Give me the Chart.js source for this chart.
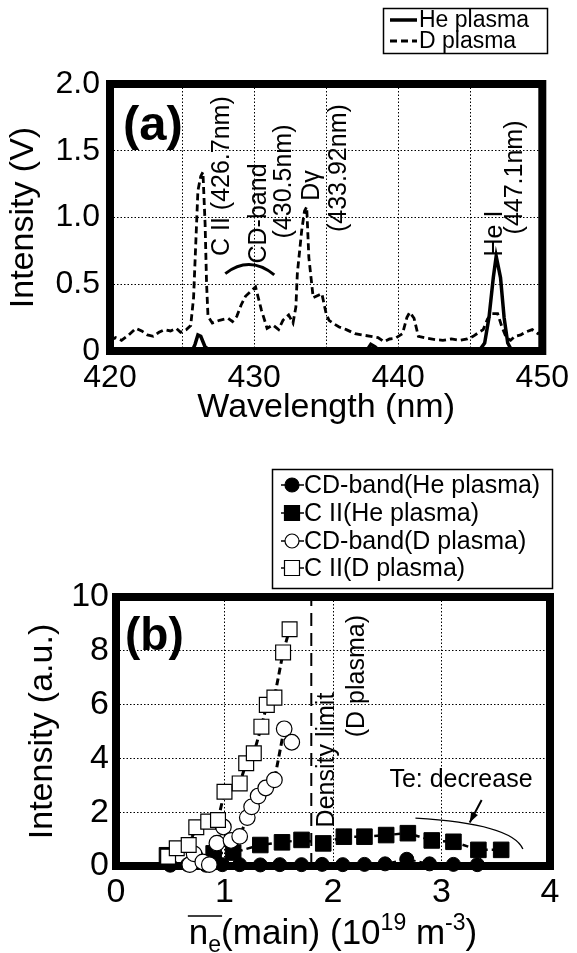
<!DOCTYPE html>
<html><head><meta charset="utf-8">
<script src="https://cdn.jsdelivr.net/npm/chart.js@4/dist/chart.umd.min.js"></script>
<style>
html,body{margin:0;padding:0;background:#fff;width:577px;height:953px;overflow:hidden}
canvas{position:absolute;left:0}
#ca{top:0}
#cb{top:440px}
</style></head><body>
<canvas id="ca" width="577" height="440"></canvas>
<canvas id="cb" width="577" height="513"></canvas>
<script>
const FONT = "'Liberation Sans', Arial, Helvetica, sans-serif";

// ---------- Panel (a): spectra ----------
const dWavelength = [420.0,420.4,420.8,421.3,421.8,422.2,422.6,423.0,423.4,423.8,424.2,424.6,424.9,425.3,425.6,425.8,425.95,426.1,426.3,426.45,426.6,426.7,426.8,427.1,427.6,428.2,428.5,428.8,429.1,429.4,429.9,430.1,430.3,430.5,430.9,431.3,431.7,432.0,432.4,432.7,432.9,433.0,433.3,433.5,433.65,433.8,434.1,434.5,434.7,435.0,435.2,435.6,435.9,436.4,437.0,437.5,438.1,438.6,439.0,439.4,439.8,440.3,440.6,440.8,441.1,441.4,442.0,442.6,443.1,443.7,444.3,444.8,445.2,445.6,445.9,446.2,446.5,446.9,447.2,447.5,447.8,448.1,448.5,448.8,449.3,449.7,450.0];
const dIntensity = [0.08,0.10,0.08,0.12,0.17,0.15,0.12,0.11,0.14,0.16,0.15,0.17,0.14,0.16,0.19,0.40,0.80,1.20,1.31,1.34,0.95,0.51,0.26,0.21,0.23,0.245,0.22,0.26,0.345,0.41,0.46,0.48,0.395,0.31,0.17,0.195,0.16,0.23,0.27,0.21,0.33,0.58,0.90,1.05,1.08,0.70,0.40,0.42,0.43,0.28,0.23,0.20,0.18,0.16,0.13,0.12,0.11,0.10,0.07,0.09,0.095,0.13,0.25,0.29,0.245,0.11,0.095,0.085,0.08,0.09,0.08,0.09,0.11,0.14,0.16,0.24,0.28,0.28,0.18,0.10,0.08,0.11,0.12,0.14,0.16,0.13,0.15];
const heWavelength = [420.0,425.7,425.9,426.1,426.3,426.6,427.0,437.8,438.1,438.4,438.7,445.6,446.0,446.3,446.6,446.8,447.1,447.35,447.6,447.9,450.0];
const heIntensity = [0.0,0.0,0.05,0.12,0.11,0.03,0.0,0.0,0.05,0.03,0.0,0.0,0.06,0.25,0.55,0.71,0.55,0.25,0.06,0.0,0.0];
const aXTickLabels = [420,430,440,450];
const aLineLabels = ['C II (426.7nm)','CD-band','(430.5nm)','D\u03b3','(433.92nm)','He I','(447.1nm)'];
const aLabelWavelength = [427.76,430.34,432.1,434.0,435.9,446.75,448.1];
const aLabelIntensity = [1.31,1.03,1.27,1.24,1.37,0.88,1.30];

// ---------- Panel (b): intensity vs density ----------
const cdHeDensity   = [0.50,0.66,0.83,0.98,1.14,1.33,1.51,1.71,1.90,2.09,2.29,2.48,2.68,2.89,3.11,3.33];
const cdHeIntensity = [0.03,0.05,0.03,0.05,0.05,0.04,0.05,0.05,0.06,0.05,0.06,0.08,0.25,0.08,0.06,0.05];
const ciiHeDensity   = [0.47,0.90,1.08,1.33,1.53,1.71,1.91,2.10,2.29,2.49,2.69,2.91,3.11,3.34,3.55];
const ciiHeIntensity = [0.40,0.47,0.50,0.78,0.88,0.97,0.84,1.09,1.09,1.15,1.22,0.95,0.90,0.60,0.60];
const cdDDensity   = [0.68,0.72,0.80,0.86,0.93,0.99,1.06,1.14,1.21,1.25,1.31,1.38,1.46,1.55,1.62];
const cdDIntensity = [0.05,0.45,0.15,0.05,0.85,1.45,0.95,1.10,1.80,2.20,2.60,2.90,3.20,5.10,4.60];
const ciiDDensity   = [0.48,0.56,0.67,0.74,0.85,0.94,1.00,1.14,1.20,1.27,1.34,1.39,1.46,1.54,1.60];
const ciiDIntensity = [0.35,0.66,0.78,1.44,1.65,1.71,2.76,3.07,3.82,4.19,5.18,5.99,6.26,7.94,8.80];
const densityLimit = 1.8;

const pts = (xs, ys) => xs.map((x, i) => ({x, y: ys[i]}));

Chart.defaults.font.family = FONT;
Chart.defaults.color = '#000';

function drawFrame(chart) {
  const {ctx, chartArea: a} = chart;
  ctx.save();
  ctx.strokeStyle = '#000';
  ctx.lineWidth = 8;
  ctx.lineJoin = 'miter';
  ctx.strokeRect(a.left, a.top, a.right - a.left, a.bottom - a.top);
  ctx.restore();
}

// ---------- Chart (a) ----------
const plugA = {
  id: 'plugA',
  beforeDatasetsDraw(chart) { drawFrame(chart); },
  afterDraw(chart) {
    const {ctx, chartArea: a, scales: {x, y}} = chart;
    ctx.save();
    ctx.font = `bold 49px ${FONT}`;
    ctx.textAlign = 'left'; ctx.textBaseline = 'alphabetic';
    ctx.fillText('(a)', a.left + 13, a.top + 56);
    ctx.font = `25px ${FONT}`;
    ctx.textAlign = 'center'; ctx.textBaseline = 'middle';
    aLineLabels.forEach((t, i) => {
      ctx.save();
      ctx.translate(x.getPixelForValue(aLabelWavelength[i]), y.getPixelForValue(aLabelIntensity[i]));
      ctx.rotate(-Math.PI / 2);
      ctx.fillText(t, 0, 0);
      ctx.restore();
    });
    ctx.lineWidth = 3;
    ctx.beginPath();
    ctx.moveTo(x.getPixelForValue(428.0), y.getPixelForValue(0.58));
    ctx.quadraticCurveTo(x.getPixelForValue(429.7), y.getPixelForValue(0.72), x.getPixelForValue(431.4), y.getPixelForValue(0.57));
    ctx.stroke();
    const ds = chart.data.datasets;
    ctx.lineWidth = 1.5;
    ctx.strokeRect(383.5, 8.5, 164, 45);
    ctx.font = `23px ${FONT}`;
    ctx.textAlign = 'left'; ctx.textBaseline = 'middle';
    [20, 41].forEach((yy, i) => {
      ctx.save();
      ctx.lineWidth = ds[i].borderWidth;
      ctx.setLineDash(ds[i].borderDash || []);
      ctx.beginPath(); ctx.moveTo(390, yy); ctx.lineTo(417, yy); ctx.stroke();
      ctx.restore();
      ctx.fillText(ds[i].label, 419, yy + 1);
    });
    ctx.restore();
  }
};

new Chart(document.getElementById('ca'), {
  type: 'line',
  data: {
    datasets: [
      {label: 'He plasma', data: pts(heWavelength, heIntensity), borderColor: '#000', borderWidth: 3.5, pointRadius: 0, tension: 0, fill: false},
      {label: 'D plasma', data: pts(dWavelength, dIntensity), borderColor: '#000', borderWidth: 2.8, borderDash: [7, 4], pointRadius: 0, tension: 0, fill: false}
    ]
  },
  options: {
    responsive: false, animation: false, devicePixelRatio: 1,
    layout: {padding: {top: 84, right: 26, left: 0, bottom: 0}},
    plugins: {legend: {display: false}, tooltip: {enabled: false}},
    scales: {
      x: {
        type: 'linear', min: 420, max: 450,
        afterFit(s) { s.height = 89; },
        grid: {color: '#000', lineWidth: 1, drawTicks: false},
        border: {display: false, dash: [1.5, 2]},
        ticks: {stepSize: 5, autoSkip: false, maxRotation: 0, padding: 8, font: {size: 32},
          callback: v => aXTickLabels.includes(v) ? String(v) : ''},
        title: {display: true, text: 'Wavelength (nm)', font: {size: 34}, padding: {top: 0, bottom: 12}}
      },
      y: {
        type: 'linear', min: 0, max: 2,
        afterFit(s) { s.width = 110; },
        grid: {color: '#000', lineWidth: 1, drawTicks: false},
        border: {display: false, dash: [1.5, 2]},
        ticks: {stepSize: 0.5, padding: 10, font: {size: 32},
          callback: v => v === 0 ? '0' : v.toFixed(1)},
        title: {display: true, text: 'Intensity (V)', font: {size: 34}, padding: {top: 3, bottom: 0}}
      }
    }
  },
  plugins: [plugA]
});

// ---------- Chart (b) ----------
function drawBTitle(chart) {
  const {ctx, chartArea: a} = chart;
  const big = `35px ${FONT}`, small = `23px ${FONT}`;
  const parts = [
    {t: 'n', f: big, dy: 0, over: true},
    {t: 'e', f: small, dy: 8, over: true},
    {t: '(main) (10', f: big, dy: 0},
    {t: '19', f: small, dy: -14},
    {t: ' m', f: big, dy: 0},
    {t: '-3', f: small, dy: -14},
    {t: ')', f: big, dy: 0}
  ];
  ctx.save();
  let total = 0;
  parts.forEach(p => { ctx.font = p.f; p.w = ctx.measureText(p.t).width; total += p.w; });
  let xx = (a.left + a.right) / 2 - total / 2;
  const base = 504;
  ctx.textAlign = 'left'; ctx.textBaseline = 'alphabetic';
  let oStart = xx, oEnd = xx;
  parts.forEach(p => {
    ctx.font = p.f;
    ctx.fillText(p.t, xx, base + p.dy);
    xx += p.w;
    if (p.over) oEnd = xx;
  });
  ctx.lineWidth = 1.5;
  ctx.beginPath(); ctx.moveTo(oStart - 1, base - 28); ctx.lineTo(oEnd + 1, base - 28); ctx.stroke();
  ctx.restore();
}

const plugB = {
  id: 'plugB',
  beforeDatasetsDraw(chart) { drawFrame(chart); },
  afterDraw(chart) {
    const {ctx, chartArea: a, scales: {x, y}} = chart;
    ctx.save();
    ctx.fillStyle = '#000'; ctx.strokeStyle = '#000';
    ctx.font = `bold 46px ${FONT}`;
    ctx.textAlign = 'left'; ctx.textBaseline = 'alphabetic';
    ctx.fillText('(b)', a.left + 9, a.top + 53);
    ctx.font = `25px ${FONT}`;
    ctx.textAlign = 'center'; ctx.textBaseline = 'middle';
    [['Density limit', 1.95, 3.94], ['(D plasma)', 2.22, 7.06]].forEach(([t, vx, vy]) => {
      ctx.save();
      ctx.translate(x.getPixelForValue(vx), y.getPixelForValue(vy));
      ctx.rotate(-Math.PI / 2);
      ctx.fillText(t, 0, 0);
      ctx.restore();
    });
    ctx.textAlign = 'left';
    ctx.fillText('Te: decrease', x.getPixelForValue(2.52), y.getPixelForValue(3.2));
    ctx.lineWidth = 1.3;
    ctx.beginPath();
    ctx.moveTo(x.getPixelForValue(2.76), y.getPixelForValue(1.78));
    ctx.quadraticCurveTo(x.getPixelForValue(3.65), y.getPixelForValue(1.57), x.getPixelForValue(3.75), y.getPixelForValue(0.63));
    ctx.stroke();
    const ax0 = x.getPixelForValue(3.37), ay0 = y.getPixelForValue(2.45);
    const ax1 = x.getPixelForValue(3.26), ay1 = y.getPixelForValue(1.62);
    ctx.lineWidth = 2;
    ctx.beginPath(); ctx.moveTo(ax0, ay0); ctx.lineTo(ax1, ay1); ctx.stroke();
    const ang = Math.atan2(ay1 - ay0, ax1 - ax0);
    ctx.beginPath();
    ctx.moveTo(ax1, ay1);
    ctx.lineTo(ax1 - 11 * Math.cos(ang - 0.35), ay1 - 11 * Math.sin(ang - 0.35));
    ctx.lineTo(ax1 - 11 * Math.cos(ang + 0.35), ay1 - 11 * Math.sin(ang + 0.35));
    ctx.closePath(); ctx.fill();
    drawBTitle(chart);
    ctx.lineWidth = 1.5;
    ctx.strokeRect(272.5, 29.5, 280, 119);
    ctx.font = `25px ${FONT}`;
    ctx.textAlign = 'left'; ctx.textBaseline = 'middle';
    const ds = chart.data.datasets.slice(0, 4);
    [45, 73, 101, 128].forEach((yy, i) => {
      const d = ds[i];
      ctx.lineWidth = 1.5;
      ctx.beginPath(); ctx.moveTo(281, yy); ctx.lineTo(304, yy); ctx.stroke();
      ctx.fillStyle = d.pointBackgroundColor;
      ctx.lineWidth = 1.2;
      ctx.beginPath();
      if (d.pointStyle === 'rect') ctx.rect(292 - 7.5, yy - 7.5, 15, 15);
      else ctx.arc(292, yy, 7, 0, Math.PI * 2);
      ctx.fill(); ctx.stroke();
      ctx.fillStyle = '#000';
      ctx.fillText(d.label, 304, yy + 1);
    });
    ctx.restore();
  }
};

new Chart(document.getElementById('cb'), {
  type: 'line',
  data: {
    datasets: [
      {label: 'CD-band(He plasma)', data: pts(cdHeDensity, cdHeIntensity), order: 4,
       borderColor: '#000', borderWidth: 2, borderDash: [6, 4], pointStyle: 'circle', pointRadius: 7,
       pointBackgroundColor: '#000', pointBorderColor: '#000', pointBorderWidth: 1, clip: false},
      {label: 'C II(He plasma)', data: pts(ciiHeDensity, ciiHeIntensity), order: 3,
       borderColor: '#000', borderWidth: 2.5, borderDash: [6, 4], pointStyle: 'rect', pointRadius: 11,
       pointBackgroundColor: '#000', pointBorderColor: '#000', pointBorderWidth: 1, clip: false},
      {label: 'CD-band(D plasma)', data: pts(cdDDensity, cdDIntensity), order: 2,
       borderColor: '#000', borderWidth: 3, borderDash: [7, 4], pointStyle: 'circle', pointRadius: 7.8,
       pointBackgroundColor: '#fff', pointBorderColor: '#000', pointBorderWidth: 1.2, clip: false},
      {label: 'C II(D plasma)', data: pts(ciiDDensity, ciiDIntensity), order: 1,
       borderColor: '#000', borderWidth: 3, borderDash: [7, 4], pointStyle: 'rect', pointRadius: 10.5,
       pointBackgroundColor: '#fff', pointBorderColor: '#000', pointBorderWidth: 1.2, clip: false},
      {label: 'Density limit', data: [{x: densityLimit, y: 0}, {x: densityLimit, y: 10}], order: 5,
       borderColor: '#000', borderWidth: 2, borderDash: [13, 7], pointRadius: 0}
    ]
  },
  options: {
    responsive: false, animation: false, devicePixelRatio: 1,
    layout: {padding: {top: 157, right: 27, left: 0, bottom: 0}},
    plugins: {legend: {display: false}, tooltip: {enabled: false}},
    scales: {
      x: {
        type: 'linear', min: 0, max: 4,
        afterFit(s) { s.height = 87; },
        grid: {color: '#000', lineWidth: 1, drawTicks: false},
        border: {display: false, dash: [1.5, 2]},
        ticks: {stepSize: 1, autoSkip: false, maxRotation: 0, padding: 6, font: {size: 34}},
        title: {display: false}
      },
      y: {
        type: 'linear', min: 0, max: 10,
        afterFit(s) { s.width = 116; },
        grid: {color: '#000', lineWidth: 1, drawTicks: false},
        border: {display: false, dash: [1.5, 2]},
        ticks: {stepSize: 2, padding: 7, font: {size: 34}},
        title: {display: true, text: 'Intensity (a.u.)', font: {size: 34}, padding: {top: 22, bottom: 0}}
      }
    }
  },
  plugins: [plugB]
});
</script>
</body></html>
